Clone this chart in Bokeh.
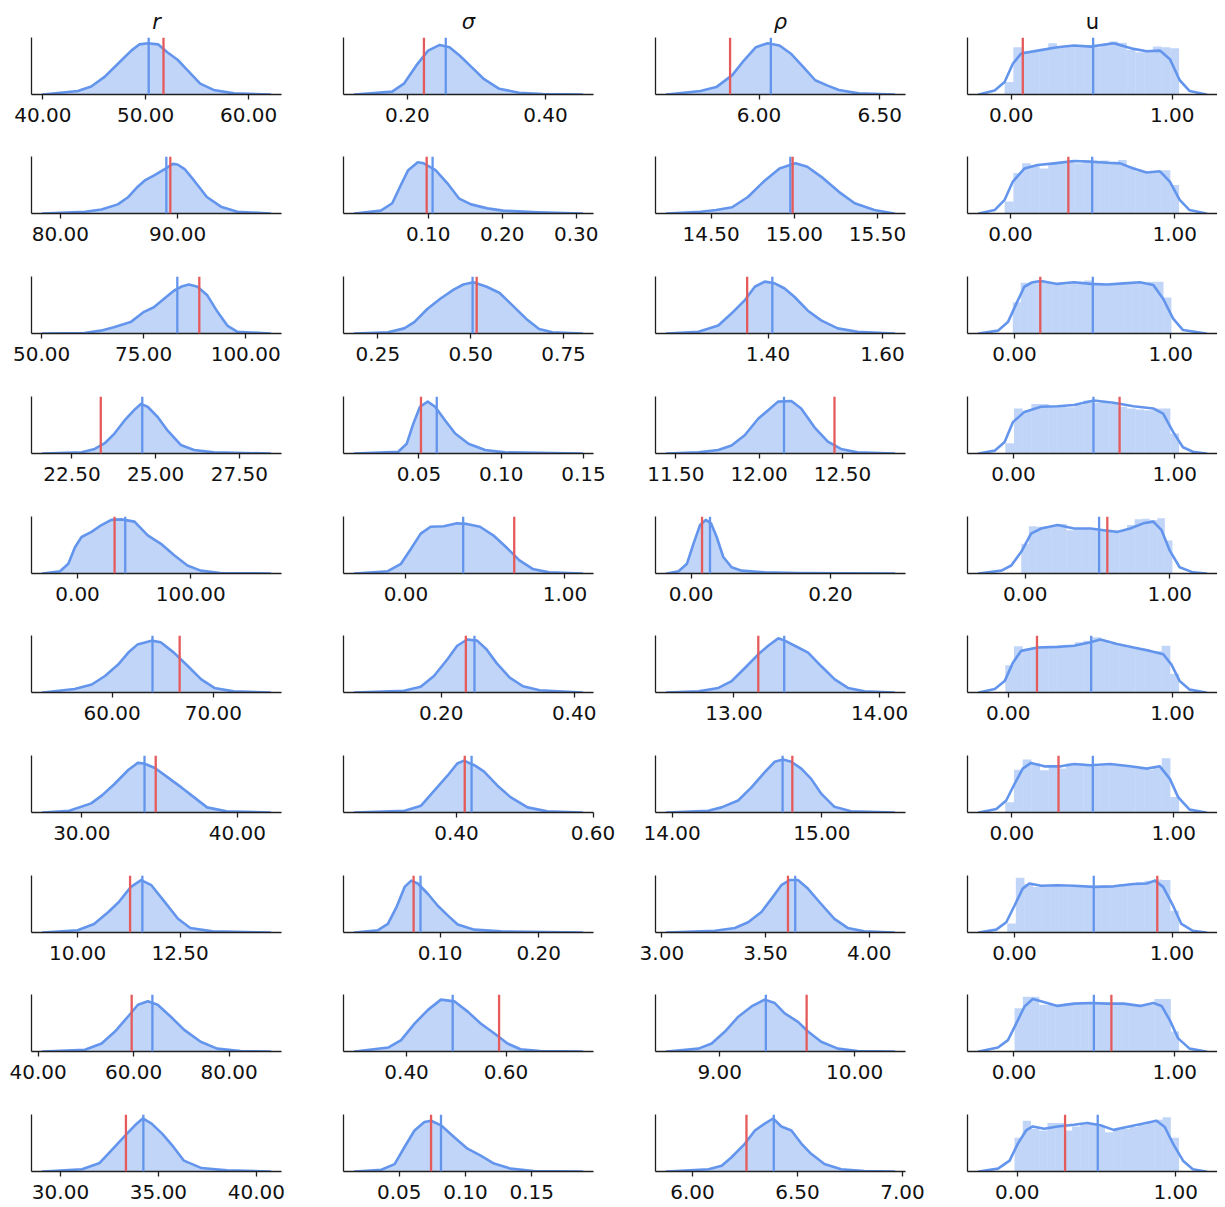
import numpy as np
from bokeh.plotting import figure
from bokeh.layouts import column, row
from bokeh.models import Range1d, Span, FixedTicker, PrintfTickFormatter
from bokeh.embed import file_html
from bokeh.resources import INLINE

# ---------------- data ----------------
col_titles = ["r", "σ", "ρ", "u"]
col_italic = [True, True, True, False]

# --- r ---
r_kde_x = [
    [40.0, 43.4, 44.7, 46.0, 47.3, 48.6, 49.4, 50.2, 51.2, 52.1, 53.1, 54.1, 55.3, 56.6, 58.6, 62.1],
    [78.5, 82.1, 83.5, 84.9, 85.8, 86.6, 87.2, 88.0, 88.9, 89.6, 90.0, 90.6, 91.4, 92.5, 93.7, 95.1, 97.9],
    [50.3, 60.4, 64.5, 67.7, 71.8, 75.1, 77.5, 80.0, 82.4, 84.5, 86.1, 88.2, 90.6, 93.1, 95.5, 98.0, 106.0],
    [21.63, 22.79, 23.18, 23.48, 23.77, 24.07, 24.37, 24.56, 24.76, 25.06, 25.36, 25.75, 26.15, 26.74, 28.42],
    [-30.7, -15.5, -8.2, -2.3, 3.5, 12.3, 21.1, 29.8, 38.6, 50.3, 62.0, 73.7, 85.4, 97.1, 108.8, 126.3, 170.2],
    [53.17, 56.3, 58.0, 59.3, 60.6, 61.6, 62.5, 63.9, 64.8, 66.1, 67.5, 68.8, 70.1, 72.0, 75.6],
    [27.5, 29.2, 30.6, 31.3, 32.1, 33.0, 33.6, 34.0, 34.7, 35.5, 36.4, 37.2, 38.05, 39.3, 42.1],
    [9.15, 10.0, 10.4, 10.75, 11.0, 11.3, 11.55, 11.8, 12.1, 12.45, 12.75, 13.3, 14.7],
    [41.0, 49.8, 53.3, 56.1, 58.8, 60.9, 63.0, 65.05, 67.8, 70.6, 74.05, 77.5, 82.4, 88.6],
    [29.1, 31.1, 32.0, 32.6, 33.3, 33.8, 34.2, 34.65, 35.2, 35.7, 36.3, 37.2, 38.5, 40.7],
]
r_kde_y = [
    [0, 0.06, 0.14, 0.31, 0.54, 0.77, 0.88, 0.90, 0.88, 0.74, 0.61, 0.42, 0.19, 0.08, 0.02, 0],
    [0, 0.03, 0.07, 0.16, 0.29, 0.47, 0.58, 0.67, 0.78, 0.87, 0.86, 0.78, 0.58, 0.29, 0.12, 0.03, 0],
    [0, 0.01, 0.05, 0.11, 0.20, 0.38, 0.46, 0.61, 0.75, 0.83, 0.86, 0.82, 0.67, 0.38, 0.14, 0.03, 0],
    [0, 0.02, 0.08, 0.18, 0.35, 0.58, 0.77, 0.87, 0.82, 0.64, 0.40, 0.15, 0.06, 0.02, 0],
    [0, 0.04, 0.17, 0.46, 0.64, 0.73, 0.85, 0.94, 0.95, 0.91, 0.67, 0.52, 0.32, 0.14, 0.05, 0.01, 0],
    [0, 0.06, 0.14, 0.29, 0.49, 0.70, 0.84, 0.91, 0.88, 0.70, 0.46, 0.23, 0.08, 0.02, 0],
    [0, 0.03, 0.16, 0.30, 0.50, 0.75, 0.87, 0.86, 0.78, 0.62, 0.44, 0.27, 0.09, 0.02, 0],
    [0, 0.04, 0.15, 0.36, 0.53, 0.80, 0.92, 0.83, 0.56, 0.24, 0.08, 0.02, 0],
    [0, 0.03, 0.14, 0.35, 0.61, 0.82, 0.88, 0.82, 0.61, 0.38, 0.17, 0.05, 0.01, 0],
    [0, 0.04, 0.15, 0.37, 0.63, 0.81, 0.93, 0.84, 0.66, 0.46, 0.19, 0.06, 0.02, 0],
]
r_mean = [50.29, 89.04, 83.25, 24.60, 42.1, 63.99, 34.03, 11.58, 63.94, 34.23]
r_true = [51.73, 89.38, 88.64, 23.36, 32.7, 66.67, 34.75, 11.28, 59.6, 33.34]
r_ticks = [[40, 50, 60], [80, 90], [50, 75, 100], [22.5, 25, 27.5], [0, 100],
           [60, 70], [30, 40], [10, 12.5], [40, 60, 80], [30, 35, 40]]

# --- sigma ---
sigma_kde_x = [
    [0.124, 0.178, 0.195, 0.213, 0.230, 0.247, 0.261, 0.276, 0.293, 0.310, 0.333, 0.362, 0.396, 0.453],
    [0.001, 0.036, 0.0515, 0.062, 0.073, 0.086, 0.094, 0.110, 0.126, 0.142, 0.158, 0.180, 0.201, 0.249, 0.308],
    [0.188, 0.277, 0.321, 0.348, 0.383, 0.418, 0.454, 0.480, 0.507, 0.543, 0.578, 0.613, 0.649, 0.684, 0.720, 0.80],
    [0.011, 0.0374, 0.0425, 0.0465, 0.0506, 0.0553, 0.0598, 0.0659, 0.0720, 0.0801, 0.0902, 0.1024, 0.1492],
    [-0.321, -0.114, -0.031, 0.031, 0.093, 0.155, 0.238, 0.321, 0.383, 0.466, 0.549, 0.631, 0.714, 0.797, 0.901, 1.108],
    [0.070, 0.144, 0.169, 0.189, 0.209, 0.224, 0.239, 0.254, 0.268, 0.283, 0.303, 0.323, 0.348, 0.412],
    [0.251, 0.324, 0.348, 0.367, 0.387, 0.401, 0.411, 0.426, 0.440, 0.460, 0.479, 0.504, 0.533, 0.584],
    [0.0135, 0.037, 0.047, 0.0556, 0.064, 0.0707, 0.0774, 0.0875, 0.0976, 0.1077, 0.1178, 0.1347, 0.1616, 0.2441],
    [0.296, 0.363, 0.389, 0.416, 0.443, 0.469, 0.496, 0.523, 0.549, 0.576, 0.603, 0.629, 0.669, 0.753],
    [0.0165, 0.0365, 0.0465, 0.054, 0.0615, 0.069, 0.074, 0.0815, 0.0915, 0.1015, 0.1115, 0.1215, 0.134, 0.1515, 0.188],
]
sigma_kde_y = [
    [0, 0.05, 0.19, 0.51, 0.77, 0.87, 0.83, 0.68, 0.48, 0.28, 0.10, 0.03, 0.01, 0],
    [0, 0.05, 0.18, 0.47, 0.76, 0.90, 0.88, 0.76, 0.53, 0.26, 0.16, 0.09, 0.05, 0.02, 0],
    [0, 0.02, 0.09, 0.20, 0.43, 0.61, 0.77, 0.86, 0.90, 0.82, 0.71, 0.49, 0.26, 0.08, 0.02, 0],
    [0, 0.03, 0.17, 0.52, 0.82, 0.91, 0.82, 0.58, 0.35, 0.17, 0.06, 0.02, 0],
    [0, 0.04, 0.17, 0.43, 0.70, 0.82, 0.83, 0.88, 0.87, 0.82, 0.67, 0.46, 0.23, 0.08, 0.02, 0],
    [0, 0.03, 0.10, 0.29, 0.58, 0.82, 0.93, 0.91, 0.76, 0.52, 0.26, 0.11, 0.04, 0],
    [0, 0.03, 0.12, 0.38, 0.65, 0.86, 0.91, 0.83, 0.72, 0.47, 0.27, 0.09, 0.02, 0],
    [0, 0.04, 0.15, 0.44, 0.80, 0.91, 0.86, 0.68, 0.47, 0.30, 0.14, 0.05, 0.02, 0],
    [0, 0.07, 0.20, 0.49, 0.73, 0.91, 0.88, 0.70, 0.49, 0.32, 0.14, 0.04, 0.01, 0],
    [0, 0.03, 0.13, 0.43, 0.72, 0.87, 0.89, 0.81, 0.60, 0.40, 0.28, 0.14, 0.05, 0.01, 0],
]
sigma_mean = [0.2556, 0.106, 0.505, 0.0608, 0.360, 0.250, 0.422, 0.0801, 0.4927, 0.0815]
sigma_true = [0.224, 0.098, 0.516, 0.0512, 0.681, 0.237, 0.412, 0.0731, 0.586, 0.074]
sigma_ticks = [[0.2, 0.4], [0.1, 0.2, 0.3], [0.25, 0.5, 0.75], [0.05, 0.1, 0.15], [0, 1],
               [0.2, 0.4], [0.4, 0.6], [0.1, 0.2], [0.4, 0.6], [0.05, 0.1, 0.15]]

# --- rho ---
rho_kde_x = [
    [5.618, 5.757, 5.823, 5.889, 5.938, 5.987, 6.036, 6.085, 6.134, 6.184, 6.233, 6.282, 6.331, 6.413, 6.56],
    [14.234, 14.436, 14.531, 14.626, 14.721, 14.816, 14.911, 15.007, 15.078, 15.173, 15.268, 15.363, 15.481, 15.60],
    [1.2232, 1.2783, 1.313, 1.336, 1.359, 1.3768, 1.3942, 1.4116, 1.429, 1.4464, 1.4696, 1.4928, 1.5217, 1.5565, 1.6203],
    [11.446, 11.635, 11.754, 11.834, 11.913, 11.994, 12.054, 12.113, 12.193, 12.252, 12.332, 12.412, 12.491, 12.59, 12.81],
    [-0.0348, -0.018, -0.006, 0.0033, 0.0129, 0.021, 0.0286, 0.0367, 0.0462, 0.0581, 0.0724, 0.1057, 0.153, 0.2914],
    [12.539, 12.756, 12.893, 12.984, 13.075, 13.167, 13.235, 13.304, 13.349, 13.441, 13.509, 13.6, 13.692, 13.783, 13.897, 14.10],
    [13.965, 14.242, 14.33, 14.441, 14.53, 14.619, 14.685, 14.741, 14.796, 14.863, 14.929, 14.996, 15.084, 15.195, 15.483],
    [3.024, 3.256, 3.352, 3.416, 3.48, 3.528, 3.576, 3.616, 3.656, 3.704, 3.768, 3.832, 3.896, 3.976, 4.12],
    [8.609, 8.843, 8.941, 9.039, 9.138, 9.236, 9.334, 9.408, 9.482, 9.58, 9.654, 9.752, 9.875, 10.022, 10.292],
    [5.878, 6.076, 6.139, 6.186, 6.25, 6.297, 6.344, 6.384, 6.423, 6.471, 6.518, 6.565, 6.628, 6.708, 6.818, 6.96],
]
rho_kde_y = [
    [0, 0.06, 0.13, 0.34, 0.60, 0.83, 0.90, 0.86, 0.71, 0.48, 0.25, 0.16, 0.08, 0.02, 0],
    [0, 0.03, 0.06, 0.11, 0.29, 0.56, 0.79, 0.88, 0.82, 0.62, 0.38, 0.18, 0.06, 0],
    [0, 0.03, 0.14, 0.35, 0.58, 0.82, 0.91, 0.88, 0.79, 0.64, 0.40, 0.23, 0.09, 0.03, 0],
    [0, 0.02, 0.06, 0.14, 0.32, 0.61, 0.76, 0.91, 0.92, 0.79, 0.46, 0.21, 0.08, 0.02, 0],
    [0, 0.04, 0.17, 0.52, 0.85, 0.94, 0.88, 0.64, 0.29, 0.11, 0.05, 0.02, 0.01, 0],
    [0, 0.02, 0.08, 0.20, 0.43, 0.67, 0.82, 0.95, 0.91, 0.79, 0.70, 0.46, 0.23, 0.08, 0.02, 0],
    [0, 0.03, 0.09, 0.21, 0.44, 0.71, 0.89, 0.93, 0.89, 0.77, 0.59, 0.33, 0.10, 0.02, 0],
    [0, 0.03, 0.08, 0.18, 0.36, 0.59, 0.83, 0.92, 0.92, 0.77, 0.50, 0.24, 0.08, 0.02, 0],
    [0, 0.05, 0.14, 0.35, 0.61, 0.79, 0.91, 0.85, 0.67, 0.52, 0.35, 0.17, 0.05, 0.01, 0],
    [0, 0.04, 0.10, 0.25, 0.49, 0.72, 0.84, 0.93, 0.79, 0.72, 0.49, 0.31, 0.13, 0.04, 0.01, 0],
]
rho_mean = [6.049, 14.976, 1.4075, 12.149, 0.0271, 13.345, 14.738, 3.643, 9.342, 6.387]
rho_true = [5.880, 14.99, 1.3635, 12.452, 0.0157, 13.167, 14.803, 3.608, 9.644, 6.257]
rho_ticks = [[6.0, 6.5], [14.5, 15.0, 15.5], [1.4, 1.6], [11.5, 12.0, 12.5], [0, 0.2],
             [13, 14], [14, 15], [3.0, 3.5, 4.0], [9, 10], [6.0, 6.5, 7.0]]

# --- u ---
u_kde_x = [
    [-0.201, -0.103, -0.041, 0.010, 0.062, 0.164, 0.287, 0.390, 0.493, 0.637, 0.760, 0.842, 0.924, 0.986, 1.047, 1.109, 1.211],
    [-0.193, -0.097, -0.036, 0.014, 0.085, 0.165, 0.266, 0.386, 0.487, 0.588, 0.668, 0.748, 0.829, 0.91, 0.97, 1.03, 1.09, 1.191],
    [-0.228, -0.106, -0.042, 0.011, 0.063, 0.116, 0.169, 0.275, 0.381, 0.486, 0.592, 0.698, 0.803, 0.888, 0.951, 1.015, 1.078, 1.226],
    [-0.215, -0.117, -0.055, -0.004, 0.068, 0.170, 0.273, 0.375, 0.498, 0.621, 0.744, 0.867, 0.928, 0.990, 1.051, 1.113, 1.195],
    [-0.32, -0.164, -0.096, -0.027, 0.041, 0.11, 0.224, 0.338, 0.452, 0.543, 0.635, 0.726, 0.817, 0.886, 0.943, 1.0, 1.068, 1.16, 1.251],
    [-0.179, -0.082, -0.022, 0.028, 0.078, 0.179, 0.30, 0.40, 0.501, 0.561, 0.662, 0.763, 0.863, 0.944, 0.994, 1.044, 1.105, 1.205],
    [-0.204, -0.096, -0.035, 0.016, 0.067, 0.118, 0.2, 0.302, 0.384, 0.486, 0.608, 0.731, 0.833, 0.914, 0.976, 1.027, 1.098, 1.2],
    [-0.226, -0.115, -0.052, 0.0, 0.052, 0.094, 0.168, 0.273, 0.377, 0.503, 0.629, 0.755, 0.839, 0.891, 0.943, 1.006, 1.059, 1.132, 1.216],
    [-0.218, -0.099, -0.037, 0.014, 0.066, 0.117, 0.168, 0.271, 0.374, 0.476, 0.579, 0.682, 0.784, 0.867, 0.918, 0.969, 1.021, 1.092, 1.195],
    [-0.242, -0.121, -0.048, 0.004, 0.056, 0.098, 0.171, 0.254, 0.358, 0.442, 0.525, 0.608, 0.692, 0.775, 0.879, 0.931, 0.983, 1.046, 1.108, 1.192],
]
u_kde_y = [
    [0, 0.07, 0.22, 0.54, 0.72, 0.77, 0.83, 0.86, 0.84, 0.90, 0.80, 0.76, 0.77, 0.62, 0.25, 0.06, 0],
    [0, 0.06, 0.24, 0.56, 0.79, 0.85, 0.88, 0.92, 0.91, 0.89, 0.88, 0.79, 0.72, 0.74, 0.56, 0.24, 0.06, 0],
    [0, 0.05, 0.20, 0.52, 0.82, 0.90, 0.92, 0.87, 0.90, 0.87, 0.86, 0.88, 0.90, 0.85, 0.61, 0.26, 0.06, 0],
    [0, 0.05, 0.20, 0.55, 0.73, 0.82, 0.83, 0.85, 0.93, 0.89, 0.83, 0.79, 0.70, 0.38, 0.11, 0.03, 0],
    [0, 0.05, 0.14, 0.38, 0.70, 0.79, 0.85, 0.79, 0.79, 0.76, 0.73, 0.79, 0.88, 0.91, 0.76, 0.40, 0.11, 0.02, 0],
    [0, 0.06, 0.20, 0.52, 0.73, 0.79, 0.80, 0.82, 0.88, 0.93, 0.85, 0.79, 0.73, 0.67, 0.49, 0.20, 0.05, 0],
    [0, 0.06, 0.21, 0.50, 0.77, 0.87, 0.81, 0.81, 0.85, 0.83, 0.85, 0.81, 0.77, 0.81, 0.59, 0.27, 0.05, 0],
    [0, 0.05, 0.18, 0.47, 0.77, 0.86, 0.82, 0.83, 0.82, 0.80, 0.81, 0.85, 0.86, 0.91, 0.80, 0.47, 0.15, 0.03, 0],
    [0, 0.07, 0.20, 0.49, 0.79, 0.92, 0.88, 0.80, 0.84, 0.85, 0.84, 0.84, 0.80, 0.85, 0.80, 0.55, 0.23, 0.05, 0],
    [0, 0.05, 0.19, 0.49, 0.72, 0.79, 0.75, 0.79, 0.82, 0.85, 0.81, 0.73, 0.78, 0.83, 0.89, 0.78, 0.49, 0.19, 0.04, 0],
]
u_hist = [
    [0.22, 0.83, 0.76, 0.77, 0.78, 0.90, 0.83, 0.85, 0.84, 0.86, 0.83, 0.87, 0.93, 0.91, 0.78, 0.74, 0.77, 0.84, 0.83, 0.81],
    [0.21, 0.71, 0.88, 0.85, 0.79, 0.88, 0.91, 0.91, 0.88, 0.91, 0.89, 0.93, 0.88, 0.94, 0.82, 0.74, 0.71, 0.74, 0.76, 0.50],
    [0.55, 0.89, 0.91, 0.93, 0.89, 0.88, 0.86, 0.90, 0.91, 0.93, 0.88, 0.86, 0.86, 0.87, 0.88, 0.89, 0.90, 0.91, 0.91, 0.63],
    [0.18, 0.79, 0.75, 0.87, 0.87, 0.82, 0.82, 0.81, 0.85, 0.93, 0.89, 0.91, 0.87, 0.82, 0.79, 0.77, 0.76, 0.79, 0.79, 0.35],
    [0.52, 0.83, 0.82, 0.83, 0.85, 0.87, 0.76, 0.79, 0.79, 0.77, 0.77, 0.75, 0.71, 0.76, 0.85, 0.95, 0.96, 0.94, 0.97, 0.58],
    [0.48, 0.81, 0.76, 0.79, 0.79, 0.79, 0.81, 0.83, 0.88, 0.91, 0.97, 0.91, 0.85, 0.82, 0.79, 0.76, 0.73, 0.73, 0.82, 0.33],
    [0.18, 0.75, 0.93, 0.86, 0.74, 0.80, 0.77, 0.86, 0.86, 0.83, 0.81, 0.83, 0.85, 0.83, 0.81, 0.77, 0.75, 0.80, 0.95, 0.27],
    [0.16, 0.96, 0.85, 0.80, 0.81, 0.83, 0.81, 0.80, 0.82, 0.81, 0.80, 0.83, 0.81, 0.85, 0.86, 0.88, 0.91, 0.93, 0.92, 0.38],
    [0.76, 0.96, 0.96, 0.82, 0.82, 0.82, 0.84, 0.85, 0.86, 0.85, 0.84, 0.84, 0.82, 0.82, 0.80, 0.80, 0.82, 0.92, 0.92, 0.35],
    [0.59, 0.89, 0.75, 0.72, 0.85, 0.85, 0.72, 0.79, 0.82, 0.85, 0.79, 0.69, 0.73, 0.75, 0.78, 0.82, 0.85, 0.91, 0.95, 0.59],
]
u_hist_lo = [-0.041, -0.036, -0.011, -0.051, -0.027, -0.018, -0.041, -0.046, 0.004, -0.017]
u_hist_hi = [1.043, 1.026, 1.004, 1.027, 1.018, 1.040, 1.033, 1.044, 1.027, 1.021]
u_mean = [0.509, 0.497, 0.501, 0.496, 0.511, 0.505, 0.500, 0.503, 0.497, 0.508]
u_true = [0.072, 0.352, 0.165, 0.658, 0.568, 0.175, 0.288, 0.906, 0.606, 0.302]
u_ticks = [[0, 1]] * 10

# ---------------- styling ----------------
BLUE = "#6495ED"
RED = "#E55A5A"
AXIS = "#1f1f1f"
TEXT = "#111111"
FONT = "DejaVu Sans"

cols = [
    (r_kde_x, r_kde_y, r_mean, r_true, r_ticks),
    (sigma_kde_x, sigma_kde_y, sigma_mean, sigma_true, sigma_ticks),
    (rho_kde_x, rho_kde_y, rho_mean, rho_true, rho_ticks),
    (u_kde_x, u_kde_y, u_mean, u_true, u_ticks),
]

n_rows = 10
border_top = [37, 28, 28, 28, 28, 28, 28, 28, 28, 28]
border_bottom = [34, 35, 35, 35, 34, 35, 35, 34, 35, 35]
label_standoff = 8


def make_panel(ci, ri):
    xs_all, ys_all, means, trues, ticks = cols[ci]
    xs = xs_all[ri]
    ys = ys_all[ri]
    lo, hi = min(xs), max(xs)
    pad = 0.05 * (hi - lo)
    p = figure(
        frame_width=250, frame_height=57,
        x_range=Range1d(lo - pad, hi + pad), y_range=Range1d(0, 1),
        min_border_left=31, min_border_right=(0 if ci == 3 else 31),
        min_border_top=border_top[ri], min_border_bottom=border_bottom[ri],
        output_backend="svg", toolbar_location=None,
        title=(col_titles[ci] if ri == 0 else None),
        background_fill_color="white", border_fill_color="white",
        outline_line_color=None,
    )
    p.grid.visible = False

    if ri == 0:
        p.title.align = "center"
        p.title.text_font = FONT
        p.title.text_font_size = "21px"
        p.title.text_font_style = "italic" if col_italic[ci] else "normal"
        p.title.text_color = TEXT
        p.title.standoff = 8

    # x axis
    xa = p.xaxis[0]
    xa.ticker = FixedTicker(ticks=ticks[ri])
    xa.formatter = PrintfTickFormatter(format="%.2f")
    xa.major_label_text_font = FONT
    xa.major_label_text_font_size = "20px"
    xa.major_label_text_color = TEXT
    xa.axis_line_color = AXIS
    xa.axis_line_width = 1.3
    xa.major_tick_line_color = AXIS
    xa.major_tick_line_width = 1.3
    xa.major_tick_out = 5
    xa.major_tick_in = 0
    xa.minor_tick_line_color = None
    xa.major_label_standoff = label_standoff

    # y axis: spine only
    ya = p.yaxis[0]
    ya.ticker = FixedTicker(ticks=[])
    ya.major_tick_line_color = None
    ya.minor_tick_line_color = None
    ya.major_label_text_font_size = "0px"
    ya.major_tick_out = 0
    ya.major_label_standoff = 0
    ya.axis_line_color = AXIS
    ya.axis_line_width = 1.3

    if ci == 3:
        h = u_hist[ri]
        edges = np.linspace(u_hist_lo[ri], u_hist_hi[ri], len(h) + 1)
        p.quad(left=edges[:-1], right=edges[1:], bottom=0, top=h,
               fill_color=BLUE, fill_alpha=0.4, line_color=None)
    else:
        p.varea(x=xs, y1=0, y2=ys, fill_color=BLUE, fill_alpha=0.4)
    p.line(xs, ys, line_color=BLUE, line_width=2.6, line_join="round", line_cap="round")

    p.add_layout(Span(location=means[ri], dimension="height",
                      line_color=BLUE, line_width=2.3))
    p.add_layout(Span(location=trues[ri], dimension="height",
                      line_color=RED, line_width=2.3))
    return p


rows = []
for ri in range(n_rows):
    rows.append(row(*[make_panel(ci, ri) for ci in range(4)]))
layout = column(*rows)

open("out.html", "w").write(file_html(layout, INLINE, title="posterior densities"))
